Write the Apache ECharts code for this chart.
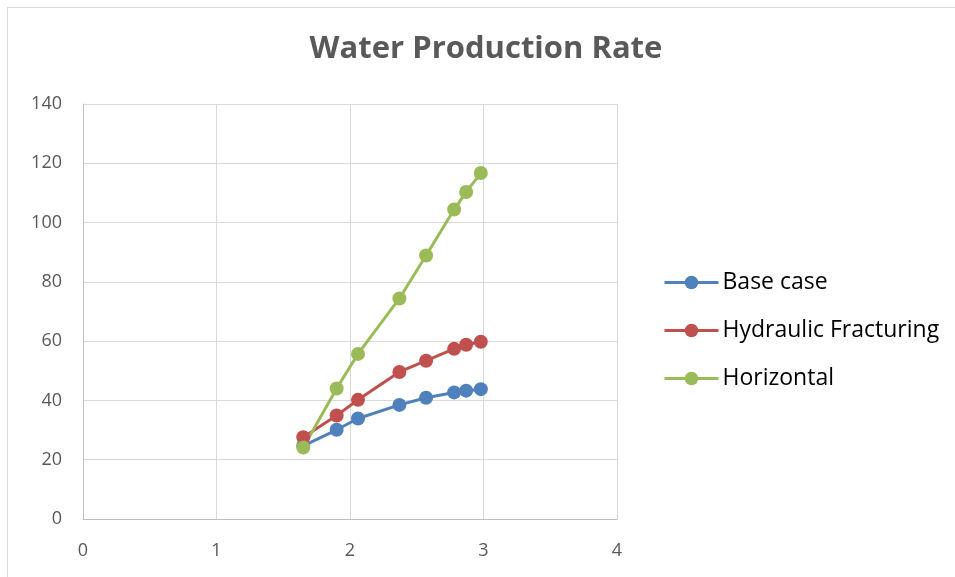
<!DOCTYPE html>
<html>
<head>
<meta charset="utf-8">
<script src="https://cdn.jsdelivr.net/npm/echarts@6/dist/echarts.min.js"></script>
<style>
  html, body { margin: 0; padding: 0; background: #fff; }
  #frame { position: absolute; left: 7px; top: 7px; width: 960px; height: 580px; border: 1px solid #d9d9d9; box-sizing: border-box; }
  #chart { width: 955px; height: 577px; }
</style>
</head>
<body>
<div id="frame"></div>
<div id="chart"></div>
<script>
// x positions shared by all three cases
const xValues = [1.65, 1.9, 2.06, 2.37, 2.57, 2.78, 2.87, 2.98];
const baseCase = [24.7, 30.1, 33.9, 38.5, 40.9, 42.7, 43.3, 43.8];
const hydraulicFracturing = [27.6, 34.9, 40.2, 49.6, 53.4, 57.4, 58.8, 59.8];
const horizontal = [24.1, 44.0, 55.7, 74.4, 88.9, 104.4, 110.3, 116.7];

const seriesDefs = [
  { name: 'Base case', values: baseCase, color: '#4f81bd' },
  { name: 'Hydraulic Fracturing', values: hydraulicFracturing, color: '#c0504d' },
  { name: 'Horizontal', values: horizontal, color: '#9bbb59' },
];

const font = '"Open Sans", "Liberation Sans", sans-serif';
const chart = echarts.init(document.getElementById('chart'));
chart.setOption({
  animation: false,
  textStyle: { fontFamily: font },
  title: {
    text: 'Water Production Rate',
    left: 481, top: 29, textAlign: 'center',
    textStyle: { fontSize: 31, fontWeight: 'bold', color: '#595959', fontFamily: font },
  },
  grid: { left: 83, right: 338, top: 104, bottom: 58 },
  legend: {
    orient: 'vertical',
    left: 658, top: 266,
    itemWidth: 54, itemHeight: 17, itemGap: 25,
    lineStyle: { width: 3 },
    textStyle: { fontSize: 23, color: '#000', fontFamily: font, padding: [0, 0, 0, -1] },
    data: seriesDefs.map(s => s.name),
  },
  xAxis: {
    type: 'value', min: 0, max: 4, interval: 1,
    axisLine: { lineStyle: { color: '#bfbfbf', width: 1 } },
    axisTick: { show: false },
    axisLabel: { fontSize: 18, color: '#595959', margin: 23 },
    splitLine: { lineStyle: { color: '#d9d9d9', width: 1 } },
  },
  yAxis: {
    type: 'value', min: 0, max: 140, interval: 20,
    axisLine: { show: true, lineStyle: { color: '#bfbfbf', width: 1 } },
    axisTick: { show: false },
    axisLabel: { fontSize: 18, color: '#595959', margin: 21 },
    splitLine: { lineStyle: { color: '#d9d9d9', width: 1 } },
  },
  series: seriesDefs.map(s => ({
    name: s.name,
    type: 'line',
    data: xValues.map((x, i) => [x, s.values[i]]),
    symbol: 'circle',
    symbolSize: 14,
    itemStyle: { color: s.color },
    lineStyle: { color: s.color, width: 3 },
  })),
});
</script>
</body>
</html>
